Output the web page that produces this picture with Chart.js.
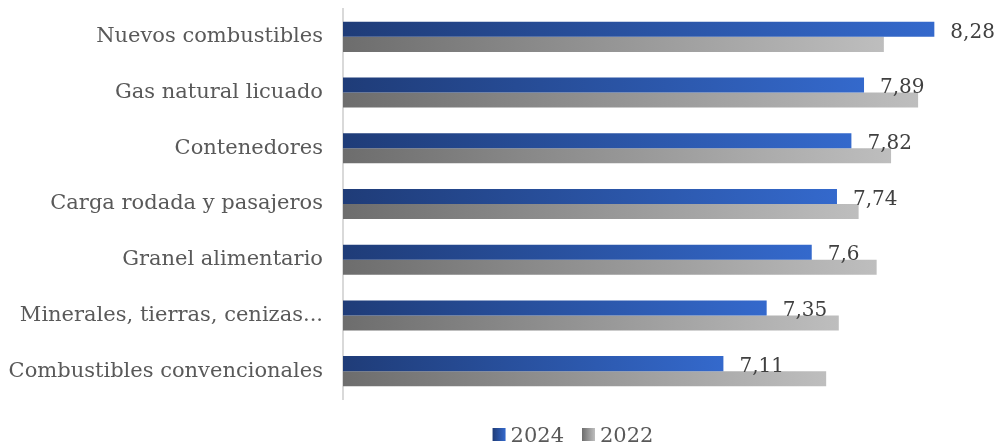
<!DOCTYPE html>
<html>
<head>
<meta charset="utf-8">
<script src="https://cdn.jsdelivr.net/npm/chart.js@4/dist/chart.umd.min.js"></script>
<style>
  html, body { margin: 0; padding: 0; background: #fff; }
  #wrap { width: 1000px; height: 446px; }
</style>
</head>
<body>
<div id="wrap"><canvas id="myChart"></canvas></div>
<script>
var categories = ['Nuevos combustibles', 'Gas natural licuado', 'Contenedores', 'Carga rodada y pasajeros', 'Granel alimentario', 'Minerales, tierras, cenizas...', 'Combustibles convencionales'];
var data2024 = [8.28, 7.89, 7.82, 7.74, 7.6, 7.35, 7.11];
var data2022 = [8.0, 8.19, 8.04, 7.86, 7.96, 7.75, 7.68];
var seriesNames = ['2024', '2022'];

var FONT = '"DejaVu Serif", "Liberation Serif", serif';
var TEXT = '#595959';
var BLUE = ['#1f3c78', '#3469cc'];
var GRAY = ['#6d6d6d', '#bebebe'];

// horizontal gradient from the axis to the end of each bar
function barGradient(cols) {
    return function (ctx) {
        var chart = ctx.chart;
        var area = chart.chartArea;
        if (!area || ctx.parsed == null) return cols[0];
        var end = chart.scales.x.getPixelForValue(ctx.parsed.x);
        var g = chart.ctx.createLinearGradient(area.left, 0, Math.max(end, area.left + 1), 0);
        g.addColorStop(0, cols[0]);
        g.addColorStop(1, cols[1]);
        return g;
    };
}

var valueLabels = {
    id: 'valueLabels',
    afterDatasetsDraw: function (chart) {
        var ctx = chart.ctx;
        var meta = chart.getDatasetMeta(0);
        ctx.save();
        ctx.font = '20px ' + FONT;
        ctx.fillStyle = '#404040';
        ctx.textAlign = 'left';
        ctx.textBaseline = 'middle';
        meta.data.forEach(function (bar, i) {
            var txt = String(data2024[i]).replace('.', ',');
            ctx.fillText(txt, bar.x + 16, bar.y + 3);
        });
        ctx.restore();
    }
};

// legend drawn below the plot
var bottomLegend = {
    id: 'bottomLegend',
    afterDraw: function (chart) {
        var ctx = chart.ctx;
        var cols = [BLUE, GRAY];
        var box = 13, gapBox = 5, gapItem = 18;
        ctx.save();
        ctx.font = '21px ' + FONT;
        ctx.textBaseline = 'middle';
        var widths = seriesNames.map(function (s) { return ctx.measureText(s).width; });
        var total = 0;
        widths.forEach(function (w) { total += box + gapBox + w; });
        total += gapItem * (seriesNames.length - 1);
        var x = 573 - total / 2;
        var y = 437;
        seriesNames.forEach(function (s, i) {
            var g = ctx.createLinearGradient(x, 0, x + box, 0);
            g.addColorStop(0, cols[i][0]);
            g.addColorStop(1, cols[i][1]);
            ctx.fillStyle = g;
            ctx.fillRect(x, y - 9, box, box);
            ctx.fillStyle = TEXT;
            ctx.fillText(s, x + box + gapBox, y);
            x += box + gapBox + widths[i] + gapItem;
        });
        ctx.restore();
    }
};

var ctx = document.getElementById('myChart').getContext('2d');
var chart = new Chart(ctx, {
    type: 'bar',
    data: {
        labels: categories,
        datasets: [{
            label: seriesNames[0],
            data: data2024,
            backgroundColor: barGradient(BLUE)
        }, {
            label: seriesNames[1],
            data: data2022,
            backgroundColor: barGradient(GRAY)
        }]
    },
    options: {
        indexAxis: 'y',
        responsive: true,
        maintainAspectRatio: false,
        animation: false,
        layout: { padding: { top: 9, right: 26, bottom: 47, left: 0 } },
        datasets: {
            bar: { categoryPercentage: 0.54, barPercentage: 1.0 }
        },
        scales: {
            x: {
                min: 5,
                max: 8.5,
                display: false
            },
            y: {
                grid: { display: false, drawTicks: false },
                border: { display: true, color: '#d9d9d9', width: 2 },
                ticks: {
                    color: TEXT,
                    font: { family: FONT, size: 21 },
                    padding: 20
                },
                afterFit: function (scale) {
                    scale.width = 343;
                    scale.paddingTop = 0;
                    scale.paddingBottom = 0;
                }
            }
        },
        plugins: {
            tooltip: { enabled: false },
            legend: { display: false }
        }
    },
    plugins: [valueLabels, bottomLegend]
});
</script>
</body>
</html>
